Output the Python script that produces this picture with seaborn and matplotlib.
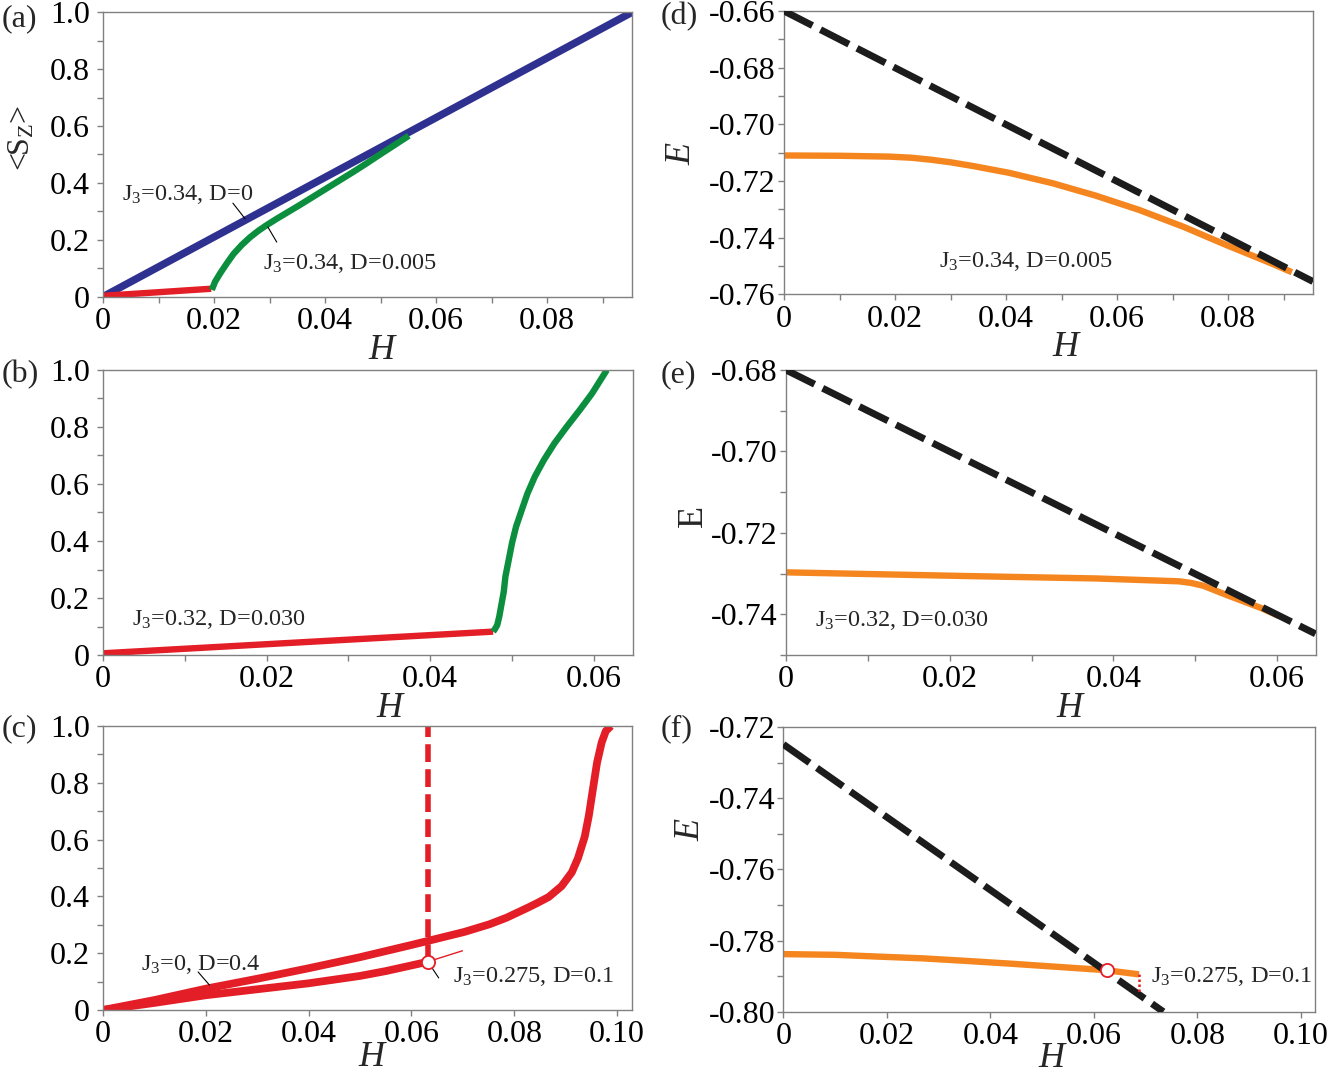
import matplotlib
matplotlib.use("Agg")
import matplotlib.pyplot as plt
import seaborn as sns
import pandas as pd
from matplotlib.ticker import MultipleLocator

# ---------------- data ----------------
# (a) J3=0.34
a_blue_H = [0.0, 0.0953]
a_blue_S = [0.0, 1.0]
a_red_H = [0.0, 0.0195]
a_red_S = [0.003, 0.028]
a_green_H = [0.0196, 0.0202, 0.0211, 0.0223, 0.0235, 0.0250, 0.0265, 0.0280, 0.0295, 0.0313,
             0.0331, 0.0355, 0.0379, 0.0403, 0.0427, 0.0451, 0.0475, 0.0499, 0.0525, 0.0551]
a_green_S = [0.024, 0.053, 0.082, 0.117, 0.150, 0.182, 0.209, 0.232, 0.252, 0.274,
             0.295, 0.323, 0.352, 0.381, 0.410, 0.439, 0.469, 0.500, 0.533, 0.566]

# (b) J3=0.32, D=0.030
b_red_H = [0.0, 0.0477]
b_red_S = [0.006, 0.082]
b_green_H = [0.0477, 0.0479, 0.0482, 0.04845, 0.0487, 0.0490, 0.0492, 0.0496, 0.0500, 0.0505,
             0.0512, 0.0519, 0.0528, 0.0539, 0.0552, 0.0567, 0.0583, 0.0598, 0.0616]
b_green_S = [0.082, 0.090, 0.105, 0.135, 0.175, 0.222, 0.275, 0.333, 0.392, 0.450,
             0.509, 0.567, 0.626, 0.684, 0.743, 0.801, 0.860, 0.918, 1.000]

# (c) J3=0, D=0.4 (upper) and J3=0.275, D=0.1 (lower)
c_up_H = [0.0, 0.01, 0.02, 0.03, 0.04, 0.05, 0.06, 0.0703, 0.0752, 0.0785, 0.0826, 0.0845,
          0.0867, 0.0892, 0.0912, 0.0924, 0.0937, 0.0945, 0.0953, 0.0961, 0.0970, 0.0978, 0.0988]
c_up_S = [0.0, 0.035, 0.075, 0.110, 0.147, 0.186, 0.229, 0.275, 0.302, 0.325, 0.360, 0.377,
          0.398, 0.436, 0.485, 0.535, 0.610, 0.684, 0.778, 0.871, 0.942, 0.982, 1.000]
c_lo_H = [0.0, 0.01, 0.02, 0.03, 0.04, 0.05, 0.055, 0.06, 0.0632]
c_lo_S = [0.0, 0.025, 0.052, 0.073, 0.094, 0.120, 0.137, 0.157, 0.170]
c_jump_H = [0.0632, 0.0632]
c_jump_S = [0.170, 1.0]
c_thin_H = [0.0632, 0.0700]
c_thin_S = [0.170, 0.209]
c_pt_H = [0.0632]
c_pt_S = [0.170]

# (d) energies J3=0.34, D=0.005
d_fm_H = [0.0, 0.0953]
d_fm_E = [-0.660, -0.7555]
d_or_H = [0.0, 0.0100, 0.0190, 0.0230, 0.0265, 0.0300, 0.0340, 0.0405, 0.0484, 0.0562,
          0.0641, 0.0720, 0.0798, 0.0877, 0.0915]
d_or_E = [-0.7110, -0.7111, -0.7114, -0.7118, -0.7125, -0.7134, -0.7147, -0.7171, -0.7208, -0.7252,
          -0.7303, -0.7362, -0.7427, -0.7490, -0.7522]

# (e) energies J3=0.32, D=0.030
e_fm_H = [0.0, 0.0647]
e_fm_E = [-0.680, -0.7448]
e_or_H = [0.0, 0.0219, 0.0379, 0.0480, 0.0495, 0.0510, 0.0539, 0.0581, 0.0603]
e_or_E = [-0.7297, -0.7306, -0.7312, -0.7319, -0.7323, -0.7330, -0.7353, -0.7385, -0.7405]

# (f) energies J3=0.275, D=0.1
f_fm_H = [0.0, 0.0734]
f_fm_E = [-0.7248, -0.8000]
f_or_H = [0.0, 0.0100, 0.0183, 0.0270, 0.0352, 0.0440, 0.0521, 0.0622, 0.0687]
f_or_E = [-0.7838, -0.7840, -0.7845, -0.7850, -0.7857, -0.7865, -0.7873, -0.7883, -0.7895]
f_drop_H = [0.0687, 0.0687]
f_drop_E = [-0.7895, -0.7950]
f_pt_H = [0.0625]
f_pt_E = [-0.7883]

S_ticks = [0, 0.2, 0.4, 0.6, 0.8, 1.0]
S_labels = ["0", "0.2", "0.4", "0.6", "0.8", "1.0"]
Ha_ticks = [0, 0.02, 0.04, 0.06, 0.08]
Ha_labels = ["0", "0.02", "0.04", "0.06", "0.08"]
Hb_ticks = [0, 0.02, 0.04, 0.06]
Hb_labels = ["0", "0.02", "0.04", "0.06"]
Hc_ticks = [0, 0.02, 0.04, 0.06, 0.08, 0.10]
Hc_labels = ["0", "0.02", "0.04", "0.06", "0.08", "0.10"]
Ed_ticks = [-0.76, -0.74, -0.72, -0.70, -0.68, -0.66]
Ed_labels = ["-0.76", "-0.74", "-0.72", "-0.70", "-0.68", "-0.66"]
Ee_ticks = [-0.74, -0.72, -0.70, -0.68]
Ee_labels = ["-0.74", "-0.72", "-0.70", "-0.68"]
Ef_ticks = [-0.80, -0.78, -0.76, -0.74, -0.72]
Ef_labels = ["-0.80", "-0.78", "-0.76", "-0.74", "-0.72"]

# ---------------- style ----------------
sns.set_theme(style="ticks")
plt.rcParams.update({
    "font.family": ["Liberation Serif", "DejaVu Serif"],
    "mathtext.fontset": "custom",
    "mathtext.rm": "Liberation Serif",
    "mathtext.it": "Liberation Serif:italic",
    "axes.unicode_minus": False,
})

RED = "#e31e26"
GREEN = "#0b8e3e"
BLUE = "#2f3190"
ORANGE = "#f5861f"
BLACK = "#1c1c1c"
SPINE = "#808080"

fig = plt.figure(figsize=(13.43, 10.76), dpi=100)
W, Hh = 1343.0, 1076.0


def make_ax(l, t, r, b):
    return fig.add_axes([l / W, 1 - b / Hh, (r - l) / W, (b - t) / Hh])


ax_a = make_ax(103, 12.3, 632, 296.7)
ax_b = make_ax(103, 370, 633, 655)
ax_c = make_ax(103, 726, 632, 1010)
ax_d = make_ax(784, 11, 1313, 294.3)
ax_e = make_ax(786, 370, 1315.5, 655)
ax_f = make_ax(783.4, 727.3, 1315, 1011.7)


def line(ax, H, Y, color, lw, dashes=None, zorder=2):
    df = pd.DataFrame({"H": H, "Y": Y})
    sns.lineplot(data=df, x="H", y="Y", ax=ax, color=color, lw=lw, sort=False,
                 estimator=None, zorder=zorder)
    ln = ax.lines[-1]
    ln.set_solid_capstyle("butt")
    ln.set_solid_joinstyle("round")
    if dashes is not None:
        ln.set_dashes(dashes)
        ln.set_dash_capstyle("butt")
    return ln


def style(ax, xlim, ylim, xt, xl, yt, yl, xminor, yminor, ypad):
    ax.set_xlim(*xlim)
    ax.set_ylim(*ylim)
    ax.set_xticks(xt)
    ax.set_xticklabels(xl)
    ax.set_yticks(yt)
    ax.set_yticklabels(yl)
    if xminor:
        ax.xaxis.set_minor_locator(MultipleLocator(xminor))
    if yminor:
        ax.yaxis.set_minor_locator(MultipleLocator(yminor))
    for s in ax.spines.values():
        s.set_color(SPINE)
        s.set_linewidth(1.0)
    ax.tick_params(which="both", direction="out", length=4.5, width=1.0,
                   color=SPINE, labelcolor="black", labelsize=23)
    ax.tick_params(axis="x", which="both", pad=3)
    ax.tick_params(axis="y", which="both", pad=ypad)
    ax.set_xlabel("")
    ax.set_ylabel("")


def xlab(ax, x, y):
    ax.set_xlabel("H", fontsize=26, style="italic")
    ax.xaxis.set_label_coords(x, y)


def ylab(ax, text, x, y, italic=True, size=26):
    ax.set_ylabel(text, fontsize=size, style="italic" if italic else "normal")
    ax.yaxis.set_label_coords(x, y)


ANN = 17.5

# (a)
line(ax_a, a_blue_H, a_blue_S, BLUE, 5.4)
line(ax_a, a_red_H, a_red_S, RED, 4.6)
line(ax_a, a_green_H, a_green_S, GREEN, 4.6)
style(ax_a, (0, 0.0953), (0, 1.0), Ha_ticks, Ha_labels, S_ticks, S_labels, 0.01, 0.1, 5)
xlab(ax_a, 0.527, -0.13)
ylab(ax_a, r"<S$_\mathregular{Z}$>", -0.125, 0.56, italic=False, size=23)
ax_a.text(0.0034, 0.34, r"J$_3$=0.34, D=0", fontsize=ANN, ha="left", va="baseline")
ax_a.plot([0.0234, 0.0256], [0.329, 0.274], color="black", lw=0.8)
ax_a.text(0.0288, 0.097, r"J$_3$=0.34, D=0.005", fontsize=ANN, ha="left", va="baseline")
ax_a.plot([0.0297, 0.0313], [0.245, 0.192], color="black", lw=0.8)

# (b)
line(ax_b, b_red_H, b_red_S, RED, 4.6)
line(ax_b, b_green_H, b_green_S, GREEN, 4.6)
style(ax_b, (0, 0.0648), (0, 1.0), Hb_ticks, Hb_labels, S_ticks, S_labels, 0.01, 0.1, 5)
xlab(ax_b, 0.54, -0.13)
ax_b.text(0.0036, 0.105, r"J$_3$=0.32, D=0.030", fontsize=ANN, ha="left", va="baseline")

# (c)
line(ax_c, c_up_H, c_up_S, RED, 5.6)
line(ax_c, c_lo_H, c_lo_S, RED, 5.6)
line(ax_c, c_jump_H, c_jump_S, RED, 4.0, dashes=(3.2, 1.3))
line(ax_c, c_thin_H, c_thin_S, RED, 1.0)
sns.scatterplot(x=c_pt_H, y=c_pt_S, ax=ax_c, s=90, color="white", edgecolor=RED,
                linewidth=1.3, zorder=5)
style(ax_c, (0, 0.1029), (0, 1.0), Hc_ticks, Hc_labels, S_ticks, S_labels, None, 0.1, 5)
xlab(ax_c, 0.507, -0.108)
ax_c.text(0.0074, 0.141, r"J$_3$=0, D=0.4", fontsize=ANN, ha="left", va="baseline")
ax_c.plot([0.0185, 0.0207], [0.134, 0.088], color="black", lw=0.8)
ax_c.text(0.068, 0.10, r"J$_3$=0.275, D=0.1", fontsize=ANN, ha="left", va="baseline")
ax_c.plot([0.0639, 0.0653], [0.151, 0.113], color="black", lw=0.8)

# (d)
line(ax_d, d_or_H, d_or_E, ORANGE, 4.6)
line(ax_d, d_fm_H, d_fm_E, BLACK, 5.0, dashes=(4.6, 1.3), zorder=3)
style(ax_d, (0, 0.0953), (-0.76, -0.66), Ha_ticks, Ha_labels, Ed_ticks, Ed_labels, 0.01, 0.01, 1.5)
xlab(ax_d, 0.532, -0.13)
ylab(ax_d, "E", -0.161, 0.494)
ax_d.text(0.0279, -0.7503, r"J$_3$=0.34, D=0.005", fontsize=ANN, ha="left", va="baseline")

# (e)
line(ax_e, e_or_H, e_or_E, ORANGE, 4.6)
line(ax_e, e_fm_H, e_fm_E, BLACK, 5.0, dashes=(4.6, 1.3), zorder=3)
style(ax_e, (0, 0.0647), (-0.75, -0.68), Hb_ticks, Hb_labels, Ee_ticks, Ee_labels, 0.01, 0.01, 1.5)
xlab(ax_e, 0.535, -0.13)
ylab(ax_e, "E", -0.143, 0.488, italic=False)
ax_e.text(0.0036, -0.743, r"J$_3$=0.32, D=0.030", fontsize=ANN, ha="left", va="baseline")

# (f)
line(ax_f, f_or_H, f_or_E, ORANGE, 4.6)
line(ax_f, f_fm_H, f_fm_E, BLACK, 5.0, dashes=(4.6, 1.3), zorder=3)
line(ax_f, f_drop_H, f_drop_E, RED, 1.8, dashes=(1.0, 1.0), zorder=4)
sns.scatterplot(x=f_pt_H, y=f_pt_E, ax=ax_f, s=90, color="white", edgecolor=RED,
                linewidth=1.3, zorder=5)
style(ax_f, (0, 0.1027), (-0.80, -0.72), Hc_ticks, Hc_labels, Ef_ticks, Ef_labels, None, 0.01, 1.5)
xlab(ax_f, 0.505, -0.108)
ylab(ax_f, "E", -0.142, 0.639)
ax_f.text(0.0710, -0.7916, r"J$_3$=0.275, D=0.1", fontsize=ANN, ha="left", va="baseline")

# panel letters
for lab, xp, yp in [("(a)", 2, 4), ("(b)", 2, 360), ("(c)", 2, 714),
                    ("(d)", 661, 2), ("(e)", 661, 360), ("(f)", 661, 714)]:
    fig.text(xp / W, 1 - yp / Hh, lab, fontsize=23, ha="left", va="top")

fig.savefig("out.png", dpi=100)
